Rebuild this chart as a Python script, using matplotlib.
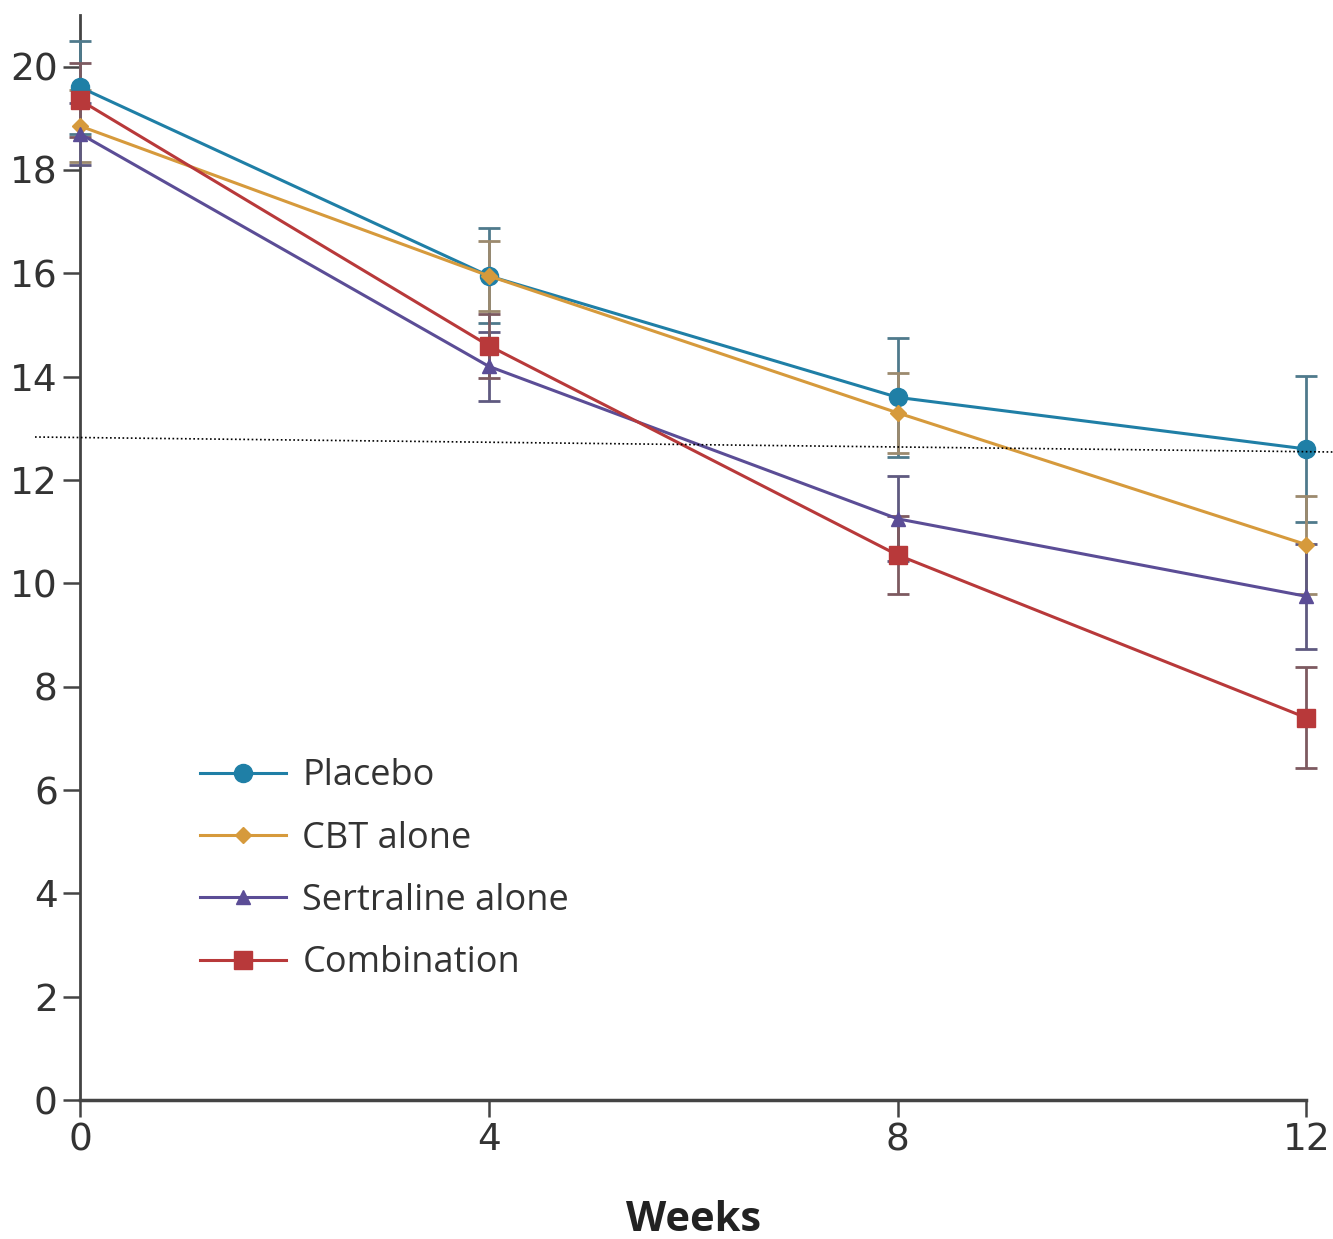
import matplotlib.pyplot as plt
from matplotlib.lines import Line2D

weeks = [0, 4, 8, 12]

placebo = [19.6, 15.95, 13.6, 12.6]
placebo_err = [0.9, 0.92, 1.15, 1.42]

cbt = [18.85, 15.95, 13.3, 10.75]
cbt_err = [0.7, 0.68, 0.78, 0.95]

sertraline = [18.7, 14.2, 11.25, 9.75]
sertraline_err = [0.6, 0.67, 0.82, 1.02]

combination = [19.35, 14.6, 10.55, 7.4]
combination_err = [0.72, 0.62, 0.76, 0.98]

labels = ['Placebo', 'CBT alone', 'Sertraline alone', 'Combination']
colors = ['#1f7fa6', '#d69a3c', '#5b4d96', '#b8393a']
err_colors = ['#4f7a8c', '#9c8a6e', '#5f5a80', '#7d5a60']
markers = ['o', 'D', '^', 's']
msizes = [13, 8, 10, 13]

series = [placebo, cbt, sertraline, combination]
errors = [placebo_err, cbt_err, sertraline_err, combination_err]

fig = plt.figure(figsize=(13.33, 12.39), dpi=100)
ax = fig.add_axes([0.06, 0.112, 0.92, 0.876])

handles = []
for vals, err, lab, c, ec, m, ms in zip(series, errors, labels, colors, err_colors, markers, msizes):
    ax.errorbar(weeks, vals, yerr=err, color=c, ecolor=ec, elinewidth=2,
                capsize=8, capthick=2, lw=2.2, marker=m, markersize=ms,
                clip_on=False, zorder=3)
    handles.append(Line2D([], [], color=c, lw=2.2, marker=m, markersize=ms, label=lab))

ax.set_xlim(0, 12)
ax.set_ylim(0, 21)
ax.set_xticks(weeks)
ax.set_yticks(range(0, 21, 2))
ax.spines['top'].set_visible(False)
ax.spines['right'].set_visible(False)
ax.spines['left'].set_linewidth(2)
ax.spines['bottom'].set_linewidth(2.5)
ax.spines['left'].set_color('#444444')
ax.spines['bottom'].set_color('#444444')
ax.tick_params(axis='both', length=12, width=1.8, color='#444444',
               labelsize=27, labelcolor='#333333', pad=4)
ax.set_xlabel('Weeks', fontsize=30, fontweight='bold', color='#222222',
              family=['Open Sans', 'DejaVu Sans'], labelpad=30)

# dotted scan line across the figure
fig.add_artist(Line2D([35 / 1333, 1.0], [1 - 437 / 1239, 1 - 452 / 1239],
                      transform=fig.transFigure, color='black', lw=1.2,
                      linestyle=(0, (1, 1.5))))

leg = ax.legend(handles=handles, loc='upper left', bbox_to_anchor=(0.071, 0.345),
                frameon=False, handlelength=2.4, handletextpad=0.45,
                labelspacing=0.73,
                prop={'family': ['Open Sans', 'DejaVu Sans'], 'size': 26})
for t in leg.get_texts():
    t.set_color('#333333')

plt.savefig('out.png', dpi=100)
